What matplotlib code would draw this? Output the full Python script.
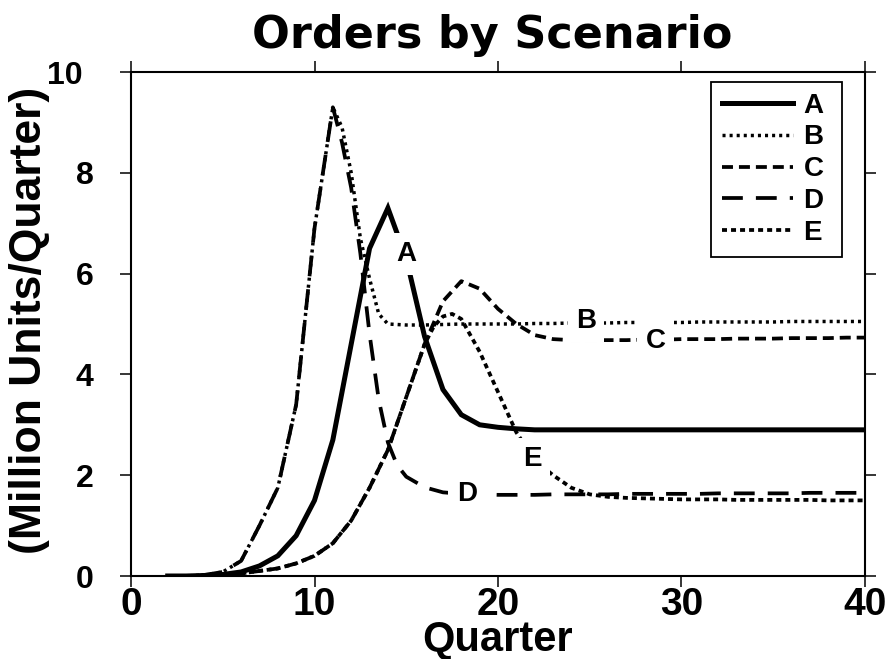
import matplotlib.pyplot as plt
from matplotlib.transforms import ScaledTranslation

# Scenario data (quarter, million units/quarter)
quarters_a = list(range(2, 41))
orders_a = [0, 0, 0.01, 0.03, 0.08, 0.2, 0.4, 0.8, 1.5, 2.7, 4.6, 6.5, 7.3, 6.3, 4.75,
            3.7, 3.2, 3.0, 2.95, 2.92] + [2.9] * 19

quarters_b = [2, 3, 4, 5, 6, 7, 8, 9, 10, 11, 11.5, 12, 12.5, 13, 13.5, 14] + list(range(15, 41))
orders_b = [0, 0, 0.02, 0.08, 0.3, 1.0, 1.75, 3.4, 6.9, 9.3, 8.9, 8.0, 6.7, 5.9, 5.2, 5.0,
            4.98, 4.98, 4.99, 5.0, 5.0, 5.0, 5.0, 5.01, 5.01, 5.02, 5.02, 5.02, 5.03,
            5.03, 5.03, 5.03, 5.04, 5.04, 5.04, 5.04, 5.04, 5.05, 5.05, 5.05, 5.05, 5.05]

quarters_c = list(range(2, 41))
orders_c = [0, 0, 0, 0.02, 0.05, 0.1, 0.15, 0.25, 0.4, 0.65, 1.1, 1.75, 2.5, 3.55, 4.6,
            5.45, 5.85, 5.7, 5.3, 5.0, 4.78, 4.7, 4.68,
            4.68, 4.68, 4.68, 4.69, 4.69, 4.7, 4.7, 4.7, 4.71, 4.71, 4.71, 4.72, 4.72,
            4.72, 4.73, 4.73]

quarters_d = [2, 3, 4, 5, 6, 7, 8, 9, 10, 11, 11.5, 12, 12.5, 13, 13.5, 14, 14.5] + list(range(15, 41))
orders_d = [0, 0, 0.02, 0.08, 0.3, 1.0, 1.75, 3.4, 6.9, 9.3, 8.6, 7.7, 6.4, 4.8, 3.5, 2.65, 2.2,
            1.97, 1.76, 1.66, 1.63, 1.62,
            1.61, 1.61, 1.61, 1.62, 1.62, 1.62, 1.62, 1.63, 1.63, 1.63, 1.63, 1.63, 1.64,
            1.64, 1.64, 1.64, 1.64, 1.65, 1.65, 1.65, 1.65]

quarters_e = list(range(2, 17)) + [16.5, 17, 17.5, 18] + list(range(19, 41))
orders_e = [0, 0, 0, 0.02, 0.05, 0.1, 0.15, 0.25, 0.4, 0.65, 1.1, 1.75, 2.5, 3.55, 4.6,
            4.95, 5.15, 5.2, 5.1,
            4.45, 3.65, 2.85, 2.3, 2.0, 1.75, 1.62, 1.57,
            1.55, 1.54, 1.53, 1.52, 1.52, 1.52, 1.51, 1.51, 1.51, 1.51, 1.51, 1.5, 1.5, 1.5]

# On-curve labels: (text, quarter, value)
curve_labels = [("A", 15.0, 6.39), ("B", 24.8, 5.06), ("C", 28.6, 4.66),
                ("D", 18.3, 1.63), ("E", 21.85, 2.32)]

plt.rcParams['font.family'] = ['Liberation Sans', 'DejaVu Sans']
plt.rcParams['font.weight'] = 'bold'
plt.rcParams['lines.scale_dashes'] = False

fig = plt.figure(figsize=(8.9, 6.59), dpi=100)
ax = fig.add_axes([131 / 890, 83 / 659, 734 / 890, 504 / 659])

ax.plot(quarters_a, orders_a, color='black', lw=3.6, label='A ', solid_joinstyle='miter')
ax.plot(quarters_b, orders_b, color='black', lw=2.5, dashes=(2.2, 2.9), label='B ')
ax.plot(quarters_c, orders_c, color='black', lw=2.7, dashes=(7.9, 4.3), label='C ')
ax.plot(quarters_d, orders_d, color='black', lw=2.7, dashes=(15, 9.4), label='D ')
ax.plot(quarters_e, orders_e, color='black', lw=2.7, dashes=(3.6, 2.9), label='E ')

for txt, qx, qy in curve_labels:
    ax.text(qx, qy, txt, fontsize=20, fontweight='bold', ha='center', va='center',
            bbox=dict(boxstyle='square,pad=0.3', fc='white', ec='none'), zorder=5)

ax.set_xlim(0, 40)
ax.set_ylim(0, 10)
ax.set_xticks([0, 10, 20, 30, 40])
ax.set_yticks([0, 2, 4, 6, 8, 10])
ax.tick_params(direction='out', length=8, width=1.1, top=True, right=True)
ax.tick_params(axis='x', labelsize=28, pad=0)
ax.tick_params(axis='y', labelsize=23, pad=19)
for s in ax.spines.values():
    s.set_linewidth(1.5)

# the "10" label sits a bit further left in the original
for lab in ax.get_yticklabels():
    if lab.get_text() == '10':
        lab.set_transform(lab.get_transform() + ScaledTranslation(-0.11, 0, fig.dpi_scale_trans))

ax.set_xlabel('Quarter', fontsize=30, fontweight='bold')
ax.xaxis.set_label_coords(0.5, -0.087)
ax.set_ylabel('(Million Units/Quarter)', fontsize=32, fontweight='bold')
ax.yaxis.set_label_coords(-0.110, 0.508)

fig.text(492 / 890, 1 - 48 / 659, 'Orders by Scenario', ha='center', va='baseline',
         fontsize=32, fontweight='bold', family='DejaVu Sans')

leg = ax.legend(loc='upper right', bbox_to_anchor=(0.9687, 0.980), fontsize=20,
                handlelength=2.55, handletextpad=0.4, borderpad=0.38, labelspacing=0.21,
                borderaxespad=0, fancybox=False, framealpha=1, edgecolor='black')
leg.get_frame().set_linewidth(1.3)

plt.savefig('out.png', dpi=100)
